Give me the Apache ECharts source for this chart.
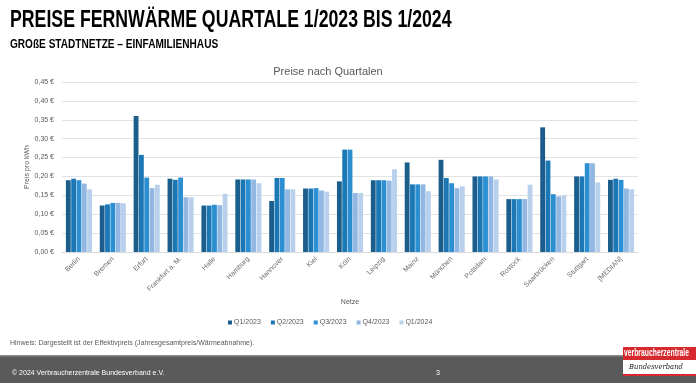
<!DOCTYPE html>
<html><head><meta charset="utf-8">
<script src="https://cdn.jsdelivr.net/npm/echarts@6/dist/echarts.min.js"></script>
<style>html,body{margin:0;padding:0;background:#fff}#c{width:696px;height:383px}</style>
</head><body><div id="c"></div>
<script>
const categories = ['Berlin','Bremen','Erfurt','Frankfurt a. M.','Halle','Hamburg','Hannover','Kiel','Köln','Leipzig','Mainz','München','Potsdam','Rostock','Saarbrücken','Stuttgart','[MEDIAN]'];
const seriesNames = ['Q1/2023','Q2/2023','Q3/2023','Q4/2023','Q1/2024'];
const q1_2023 = [0.190,0.123,0.360,0.194,0.123,0.192,0.135,0.168,0.187,0.190,0.237,0.244,0.200,0.140,0.330,0.200,0.191];
const q2_2023 = [0.194,0.126,0.257,0.191,0.123,0.192,0.196,0.168,0.271,0.190,0.179,0.196,0.200,0.140,0.242,0.200,0.194];
const q3_2023 = [0.190,0.130,0.197,0.197,0.125,0.192,0.196,0.169,0.271,0.190,0.179,0.182,0.200,0.140,0.153,0.235,0.191];
const q4_2023 = [0.181,0.130,0.169,0.145,0.124,0.192,0.166,0.163,0.156,0.189,0.179,0.169,0.200,0.140,0.147,0.235,0.168];
const q1_2024 = [0.166,0.129,0.178,0.145,0.154,0.182,0.166,0.160,0.156,0.219,0.161,0.174,0.192,0.178,0.150,0.184,0.166];
const yTicks = {min:0, max:0.45, interval:0.05};
const colors = ['#1b5e8c','#1c77b5','#2b8fd1','#92b7e2','#b8d0ec'];
const allData = [q1_2023,q2_2023,q3_2023,q4_2023,q1_2024];

const FONT = 'Liberation Sans, Arial, sans-serif';
const chart = echarts.init(document.getElementById('c'), null, {renderer:'canvas'});
chart.setOption({
  animation:false,
  color: colors,
  textStyle:{fontFamily:FONT},
  title:{text:'Preise nach Quartalen', left:323, top:61, textAlign:'center',
    textStyle:{fontSize:11, fontWeight:'normal', color:'#595959', fontFamily:FONT}},
  grid:{left:62, right:58, top:82, bottom:131, containLabel:false},
  legend:{left:223, top:314, itemWidth:4, itemHeight:4, icon:'rect', itemGap:10,
    textStyle:{fontSize:7, color:'#595959', fontFamily:FONT, padding:[0,0,0,-3]},
    data: seriesNames},
  xAxis:{type:'category', data:categories, name:'Netze', nameLocation:'middle', nameGap:47,
    nameMoveOverlap:false,
    nameTextStyle:{fontSize:7, color:'#595959'},
    axisLine:{lineStyle:{color:'#d9d9d9'}}, axisTick:{show:false},
    axisLabel:{interval:0, rotate:45, fontSize:7, color:'#6b6b6b', margin:6}},
  yAxis:{type:'value', min:yTicks.min, max:yTicks.max, interval:yTicks.interval,
    name:'Preis pro kWh', nameLocation:'middle', nameGap:31, nameRotate:90,
    nameMoveOverlap:false,
    nameTextStyle:{fontSize:7, color:'#595959'},
    axisLine:{show:false}, axisTick:{show:false},
    splitLine:{lineStyle:{color:'#e3e3e3'}},
    axisLabel:{fontSize:7, color:'#595959', margin:8,
      formatter:v=>v.toFixed(2).replace('.',',')+' €'}},
  series: seriesNames.map((n,i)=>({name:n, type:'bar', data:allData[i],
    barGap:'10%', barCategoryGap:'23%'})),
  graphic:[
    {type:'text', left:10, top:9, scaleX:0.77, style:{text:'PREISE FERNWÄRME QUARTALE 1/2023 BIS 1/2024',
      font:'bold 23px '+FONT, fill:'#000'}},
    {type:'text', left:10, top:39, scaleX:0.84, style:{text:'GROßE STADTNETZE – EINFAMILIENHAUS',
      font:'bold 12px '+FONT, fill:'#000'}},
    {type:'text', left:10, top:340, style:{text:'Hinweis: Dargestellt ist der Effektivpreis (Jahresgesamtpreis/Wärmeabnahme).',
      font:'7px '+FONT, fill:'#595959'}},
    {type:'rect', shape:{x:0,y:356,width:696,height:27}, style:{fill:'#5a5a5a'}},
    {type:'rect', shape:{x:0,y:355,width:696,height:1.5}, style:{fill:'#8a8a8a'}},
    {type:'text', left:12, top:370, style:{text:'© 2024 Verbraucherzentrale Bundesverband e.V.',
      font:'7px '+FONT, fill:'#ffffff'}},
    {type:'text', left:436, top:370, style:{text:'3', font:'7px '+FONT, fill:'#ffffff'}},
    {type:'rect', shape:{x:623,y:347,width:73,height:13}, style:{fill:'#d62a2e'}},
    {type:'text', x:624, y:348, scaleX:0.68, style:{text:'verbraucherzentrale', font:'bold 10px '+FONT, fill:'#fff'}},
    {type:'rect', shape:{x:623,y:360,width:73,height:14}, style:{fill:'#ffffff'}},
    {type:'text', x:629, y:363, scaleX:0.85, style:{text:'Bundesverband', font:'italic 8px "DejaVu Serif", serif', fill:'#222'}},
    {type:'rect', shape:{x:623,y:374,width:73,height:2}, style:{fill:'#d62a2e'}}
  ]
});
</script></body></html>
